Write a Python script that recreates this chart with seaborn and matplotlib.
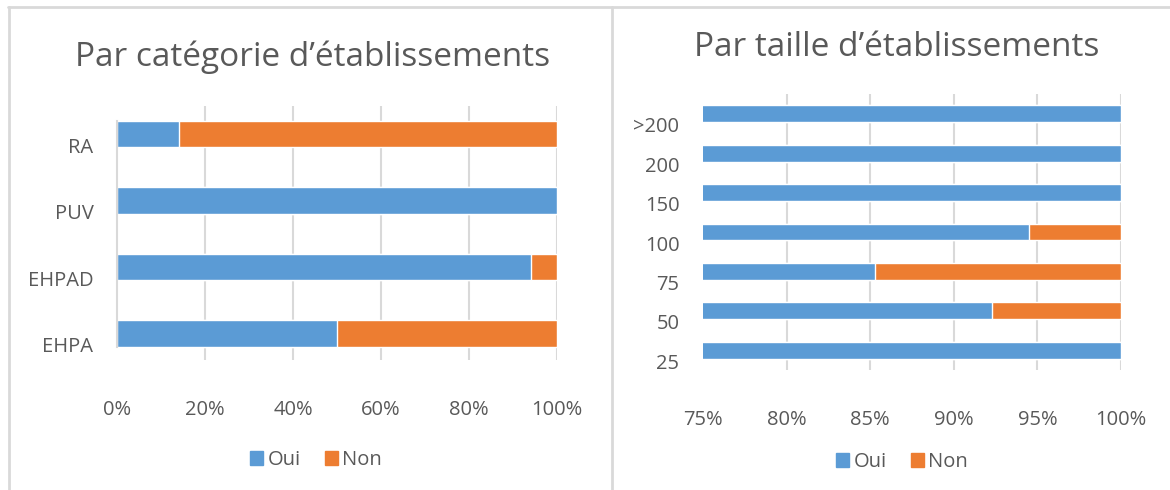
import matplotlib
matplotlib.use('Agg')
import matplotlib.pyplot as plt
import matplotlib.transforms as mtransforms
from matplotlib.patches import Patch
from matplotlib.lines import Line2D
import seaborn as sns
import pandas as pd

# data (percentages)
cat_labels = ['RA', 'PUV', 'EHPAD', 'EHPA']
cat_oui = [14, 100, 94, 50]
cat_non = [86, 0, 6, 50]

size_labels = ['>200', '200', '150', '100', '75', '50', '25']
size_oui = [100, 100, 100, 94.5, 85.3, 92.3, 100]
size_non = [0, 0, 0, 5.5, 14.7, 7.7, 0]

BLUE = '#5B9BD5'
ORANGE = '#ED7D31'
GRID = '#D9D9D9'
TXT = '#595959'

sns.set_theme(style='white')
plt.rcParams['font.family'] = ['Open Sans', 'DejaVu Sans']

fig = plt.figure(figsize=(11.7, 4.9), dpi=100)


def stacked(ax, labels, oui, non, xmin, ticks, bar_w):
    df = pd.DataFrame({'cat': labels, 'oui': oui,
                       'total': [o + n for o, n in zip(oui, non)]})
    # orange = full bar (Oui + Non), blue Oui drawn over it
    sns.barplot(data=df, y='cat', x='total', color=ORANGE, orient='h',
                width=bar_w, saturation=1, ax=ax, order=labels)
    sns.barplot(data=df, y='cat', x='oui', color=BLUE, orient='h',
                width=bar_w, saturation=1, ax=ax, order=labels)
    ax.set_xlim(xmin, 100)
    ax.set_xticks(ticks)
    ax.set_xticklabels([f'{t}%' for t in ticks])
    for t in ticks:
        if t > xmin:
            ax.axvline(t, color=GRID, lw=1.5, zorder=0)
    ax.set_xlabel('')
    ax.set_ylabel('')
    for s in ax.spines.values():
        s.set_visible(False)
    ax.tick_params(axis='both', length=0, colors=TXT, labelsize=14.5)
    ax.tick_params(axis='x', pad=29)
    ax.tick_params(axis='y', pad=17)
    off = mtransforms.ScaledTranslation(0, -8 / 72, fig.dpi_scale_trans)
    for lab in ax.get_yticklabels():
        lab.set_transform(lab.get_transform() + off)


# left panel
ax1 = fig.add_axes([117 / 1170, 1 - 360 / 490, 440 / 1170, 254 / 490])
stacked(ax1, cat_labels, cat_oui, cat_non, 0, [0, 20, 40, 60, 80, 100], 0.4)
ax1.set_ylim(3.4, -0.42)
ax1.spines['left'].set_visible(True)
ax1.spines['left'].set_color(GRID)
ax1.spines['left'].set_linewidth(1.5)
ax1.spines['left'].set_bounds(-0.2, 3.2)

# right panel
ax2 = fig.add_axes([703 / 1170, 1 - 370 / 490, 418 / 1170, 276 / 490])
stacked(ax2, size_labels, size_oui, size_non, 75, [75, 80, 85, 90, 95, 100], 0.43)
ax2.set_ylim(6.5, -0.5)

fig.text(313 / 1170, 1 - 57 / 490, 'Par catégorie d\u2019établissements',
         ha='center', va='center', fontsize=24, color=TXT)
fig.text(897 / 1170, 1 - 48 / 490, 'Par taille d\u2019établissements',
         ha='center', va='center', fontsize=24, color=TXT)

handles = [Patch(color=BLUE, label='Oui'), Patch(color=ORANGE, label='Non')]
for xc, yc in [(316 / 1170, 1 - 460 / 490), (902 / 1170, 1 - 462 / 490)]:
    fig.legend(handles=handles, loc='center', bbox_to_anchor=(xc, yc),
               ncol=2, frameon=False, fontsize=14.5, labelcolor=TXT,
               handlelength=0.65, handleheight=0.65, handletextpad=0.2,
               columnspacing=1.2)

# panel borders
fig.add_artist(Line2D([8 / 1170, 1], [1 - 7 / 490] * 2, color=GRID, lw=2))
fig.add_artist(Line2D([9 / 1170] * 2, [0, 1 - 7 / 490], color=GRID, lw=2))
fig.add_artist(Line2D([612 / 1170] * 2, [0, 1 - 7 / 490], color=GRID, lw=2))

fig.savefig('out.png', dpi=100)
